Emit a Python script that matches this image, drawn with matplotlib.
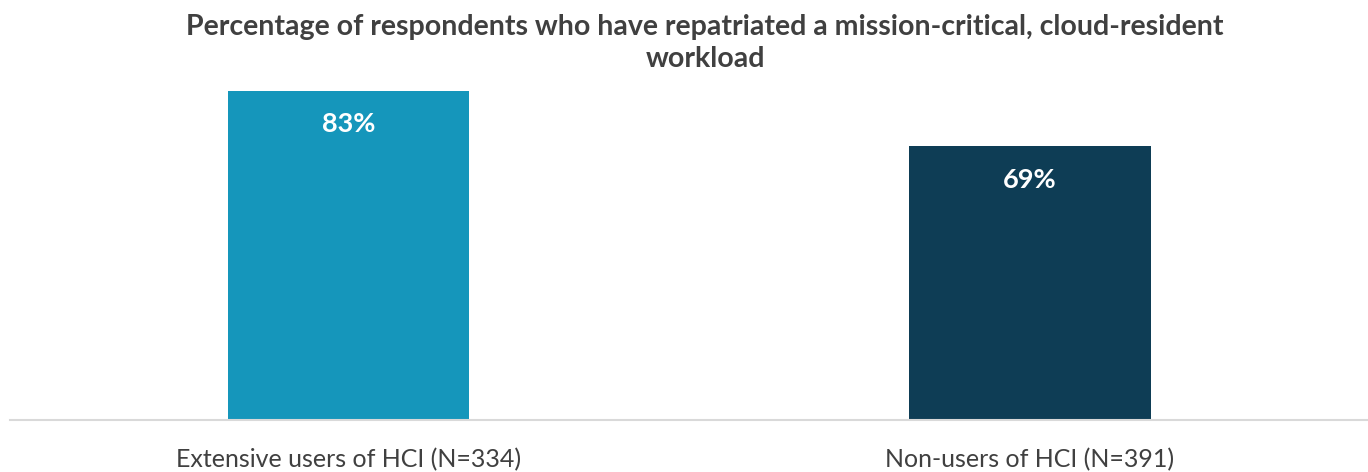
import matplotlib
matplotlib.use("Agg")
import matplotlib.pyplot as plt

categories = ["Extensive users of HCI (N=334)", "Non-users of HCI (N=391)"]
values = [83, 69]
colors = ["#1596bb", "#0e3d55"]
title = "Percentage of respondents who have repatriated a mission-critical, cloud-resident\nworkload"

plt.rcParams['font.family'] = ['Lato', 'DejaVu Sans']

fig = plt.figure(figsize=(13.68, 4.72), dpi=100)
ax = fig.add_axes([10/1368, 1 - 420/472, 1358/1368, 330/472])
x = list(range(len(categories)))
bars = ax.bar(x, values, width=0.354, color=colors, zorder=2)
ax.set_xlim(-0.497, 1.496)
ax.set_ylim(0, 83.2)
for s in ["top", "right", "left"]:
    ax.spines[s].set_visible(False)
ax.spines["bottom"].set_color("#d9d9d9")
ax.spines["bottom"].set_linewidth(1.5)
ax.set_yticks([])
ax.set_xticks(x)
ax.set_xticklabels(categories, fontsize=18, color="#404040")
ax.tick_params(axis="x", length=0, pad=20)
for b, v in zip(bars, values):
    ax.annotate(f"{v}%", (b.get_x() + b.get_width() / 2, v), xytext=(0, -24),
                textcoords="offset points", ha="center", va="center",
                color="white", fontsize=19.5, fontweight="bold")
fig.text(0.5154, 1 - 43/472, title, ha="center", va="center", fontsize=20.5,
         fontweight="bold", color="#404040", linespacing=1.3)
fig.savefig("out.png", dpi=100)
